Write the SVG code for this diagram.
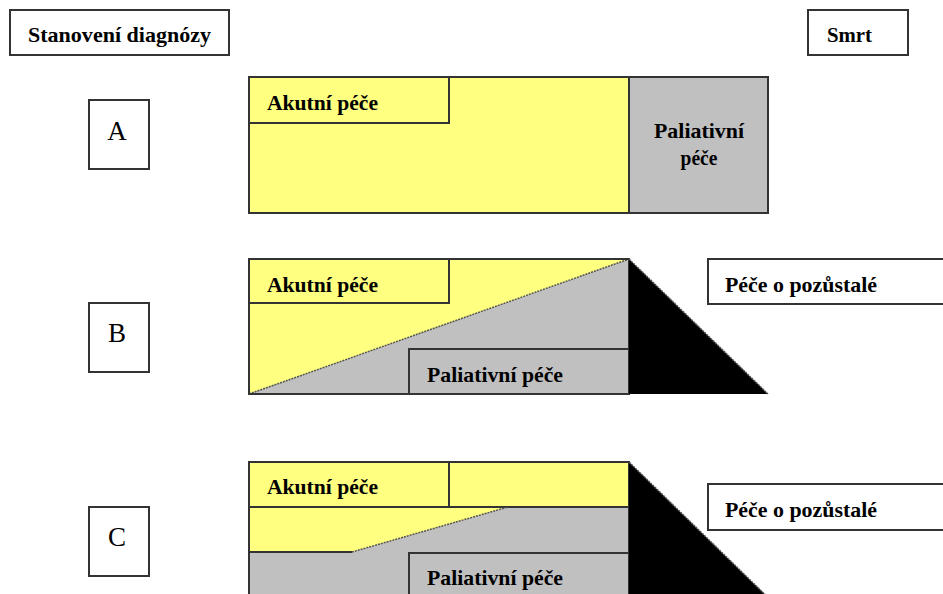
<svg xmlns="http://www.w3.org/2000/svg" width="943" height="594" viewBox="0 0 943 594">
<style>
.b{stroke:#333;stroke-width:2}
.y{fill:#FFFF80}
.g{fill:#C0C0C0}
.w{fill:#fff}
.k{fill:#000}
.t{font-family:"Liberation Serif","Times New Roman",serif;font-weight:bold;font-size:21px;fill:#000}
.L{font-family:"Liberation Serif","Times New Roman",serif;font-size:27px;fill:#000}
.d{stroke:#555;stroke-width:1.5;fill:none;stroke-dasharray:2 1}
</style>
<rect width="943" height="594" fill="#fff"/>
<g id="diagnoza">
<rect x="10" y="10" width="219" height="45" class="w b"/>
<text x="28" y="42" class="t" textLength="183" lengthAdjust="spacingAndGlyphs">Stanovení diagnózy</text>
</g>
<g id="smrt">
<rect x="808" y="10" width="100" height="45" class="w b"/>
<text x="827" y="42" class="t" textLength="45" lengthAdjust="spacingAndGlyphs">Smrt</text>
</g>
<g id="labelA">
<rect x="89" y="100" width="60" height="69" class="w b"/>
<text x="117" y="140" class="L" text-anchor="middle">A</text>
</g>
<g id="labelB">
<rect x="89" y="303" width="60" height="69" class="w b"/>
<text x="117" y="342" class="L" text-anchor="middle">B</text>
</g>
<g id="labelC">
<rect x="89" y="507" width="60" height="69" class="w b"/>
<text x="117" y="546" class="L" text-anchor="middle">C</text>
</g>
<g id="rowA">
<rect x="249" y="77" width="380" height="136" class="y b"/>
<rect x="629" y="77" width="139" height="136" class="g b"/>
<rect x="249" y="77" width="200" height="46" class="y b"/>
<text x="267" y="110" class="t" textLength="111" lengthAdjust="spacingAndGlyphs">Akutní péče</text>
<text x="699" y="138" class="t" text-anchor="middle" textLength="90" lengthAdjust="spacingAndGlyphs">Paliativní</text>
<text x="699" y="165" class="t" text-anchor="middle" textLength="37" lengthAdjust="spacingAndGlyphs">péče</text>
</g>
<g id="rowB">
<rect x="249" y="259" width="380" height="135" class="g"/>
<polygon points="249,259 629,259 249,394" class="y"/>
<line x1="249" y1="394" x2="629" y2="259" class="d"/>
<rect x="249" y="259" width="200" height="44" class="y b"/>
<text x="267" y="292" class="t" textLength="111" lengthAdjust="spacingAndGlyphs">Akutní péče</text>
<rect x="409" y="349" width="220" height="45" class="g b"/>
<text x="427" y="382" class="t" textLength="136" lengthAdjust="spacingAndGlyphs">Paliativní péče</text>
<rect x="249" y="259" width="380" height="135" fill="none" class="b"/>
<polygon points="629,259 629,394 768,394" class="k"/>
<line x1="629" y1="259" x2="768" y2="394" class="d" stroke="#888"/>
</g>
<g id="pozustaleB">
<rect x="708" y="259" width="250" height="45" class="w b"/>
<text x="725" y="292" class="t" textLength="152" lengthAdjust="spacingAndGlyphs">Péče o pozůstalé</text>
</g>
<g id="rowC">
<rect x="249" y="462" width="380" height="150" class="g"/>
<polygon points="249,462 629,462 629,507 508,507 352,552 249,552" class="y"/>
<line x1="449" y1="507" x2="629" y2="507" class="b"/>
<line x1="249" y1="552" x2="352" y2="552" class="b"/>
<line x1="352" y1="552" x2="508" y2="507" class="d"/>
<rect x="249" y="462" width="200" height="45" class="y b"/>
<text x="267" y="494" class="t" textLength="111" lengthAdjust="spacingAndGlyphs">Akutní péče</text>
<rect x="409" y="553" width="220" height="60" class="g b"/>
<text x="427" y="585" class="t" textLength="136" lengthAdjust="spacingAndGlyphs">Paliativní péče</text>
<rect x="249" y="462" width="380" height="150" fill="none" class="b"/>
<polygon points="629,462 629,612 783,612" class="k"/>
<line x1="629" y1="462" x2="783" y2="612" class="d" stroke="#888"/>
</g>
<g id="pozustaleC">
<rect x="708" y="484" width="250" height="46" class="w b"/>
<text x="725" y="517" class="t" textLength="152" lengthAdjust="spacingAndGlyphs">Péče o pozůstalé</text>
</g>
<g id="connectors"/>
</svg>
